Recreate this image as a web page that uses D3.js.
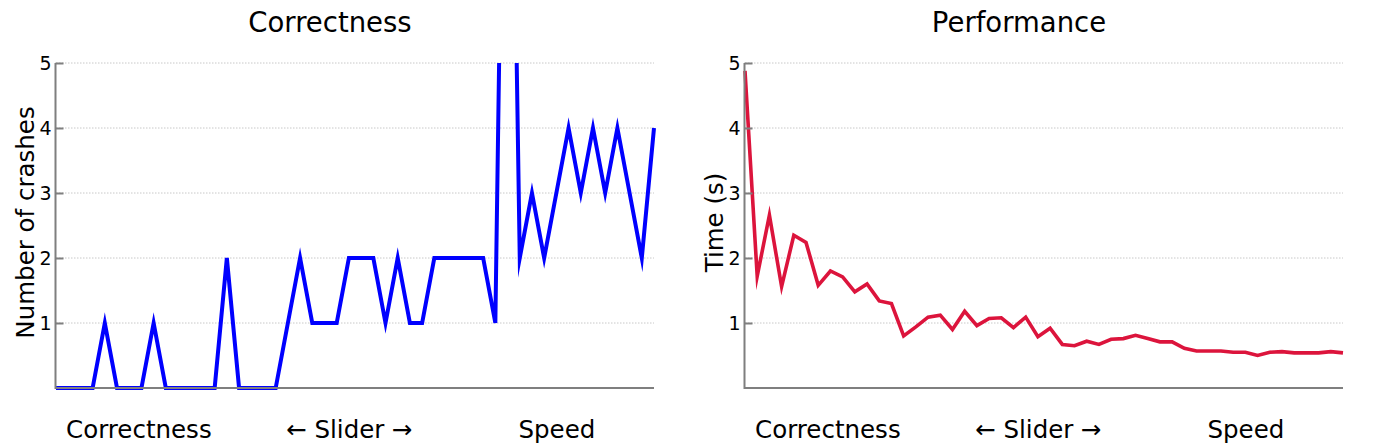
<!DOCTYPE html>
<html>
<head>
<meta charset="utf-8">
<script src="https://cdn.jsdelivr.net/npm/d3@7"></script>
<style>
  html, body { margin: 0; padding: 0; background: #fff; }
  svg { display: block; font-family: "DejaVu Sans", sans-serif; }
</style>
</head>
<body>
<svg id="chart" width="1378" height="447"></svg>
<script>
// ---- data ----
const crashes = [0,0,0,0,1,0,0,0,1,0,0,0,0,0,2,0,0,0,0,1,2,1,1,1,2,2,2,1,2,1,1,2,2,2,2,2,1,14,2,3,2,3,4,3,4,3,4,3,2,4];
const times = [4.88,1.72,2.66,1.56,2.35,2.24,1.58,1.80,1.71,1.48,1.60,1.34,1.30,0.80,0.94,1.09,1.12,0.90,1.18,0.96,1.07,1.08,0.93,1.09,0.79,0.92,0.67,0.65,0.72,0.67,0.75,0.76,0.81,0.76,0.71,0.71,0.61,0.57,0.57,0.57,0.55,0.55,0.50,0.55,0.56,0.54,0.54,0.54,0.56,0.54];
const yTicks = [1, 2, 3, 4, 5];
const xTickPos = [6.75, 24, 41];
const xTickLabels = ["Correctness", "\u2190 Slider \u2192", "Speed"];
const panelTitles = ["Correctness", "Performance"];
const yLabels = ["Number of crashes", "Time (s)"];

const svg = d3.select("#chart");
const AXIS = "#7f7f7f";

function panel(idx, values, left, color, strokeW) {
  const right = left + 598, top = 63, bottom = 388;
  const x = d3.scaleLinear().domain([0, values.length - 1]).range([left, right]);
  const y = d3.scaleLinear().domain([0, 5]).range([bottom, top]);
  const g = svg.append("g");

  // grid
  g.selectAll("line.grid").data(yTicks).join("line")
    .attr("x1", left).attr("x2", right)
    .attr("y1", d => y(d)).attr("y2", d => y(d))
    .attr("stroke", "#c8c8c8").attr("stroke-width", 1)
    .attr("stroke-dasharray", "1.5,1.5");

  // clip
  const cid = "clip" + idx;
  svg.append("defs").append("clipPath").attr("id", cid)
    .append("rect").attr("x", left - 5).attr("y", top).attr("width", right - left + 10).attr("height", bottom - top + 5);

  const line = d3.line().x((d, i) => x(i)).y(d => y(d));
  g.append("path").datum(values)
    .attr("clip-path", `url(#${cid})`)
    .attr("d", line).attr("fill", "none")
    .attr("stroke", color).attr("stroke-width", strokeW)
    .attr("stroke-linejoin", "miter").attr("stroke-miterlimit", 10);

  // y axis
  const ya = d3.axisLeft(y).tickValues(yTicks).tickSize(-8).tickPadding(4).tickFormat(d3.format("d"));
  const yg = g.append("g").attr("transform", `translate(${left - 0.5},0)`).call(ya);
  yg.select(".domain").attr("stroke", AXIS).attr("stroke-width", 2).attr("d", `M0,${top}V${bottom + 1}`);
  yg.selectAll(".tick line").attr("stroke", AXIS).attr("stroke-width", 2);
  yg.selectAll(".tick text").attr("font-size", 19).attr("font-family", "DejaVu Sans").attr("fill", "#000");

  // x axis
  const xa = d3.axisBottom(x).tickValues(xTickPos).tickSize(0).tickPadding(33)
    .tickFormat((d, i) => xTickLabels[i]);
  const xg = g.append("g").attr("transform", `translate(0,${bottom})`).call(xa);
  xg.select(".domain").attr("stroke", AXIS).attr("stroke-width", 2).attr("d", `M${left - 1},0H${right}`);
  xg.selectAll(".tick text").attr("font-size", 24.5).attr("font-family", "DejaVu Sans").attr("fill", "#000");

  // title
  g.append("text").attr("x", (left + right) / 2 - 25).attr("y", 32)
    .attr("text-anchor", "middle").attr("font-size", 27.5).text(panelTitles[idx]);

  // y label
  const lx = left - 22;
  g.append("text").attr("transform", `translate(${lx},${(top + bottom) / 2 - 3}) rotate(-90)`)
    .attr("text-anchor", "middle").attr("font-size", 24.5).text(yLabels[idx]);
}

panel(0, crashes, 56, "#0000ff", 4);
panel(1, times, 745, "#dc143c", 3.6);
</script>
</body>
</html>
